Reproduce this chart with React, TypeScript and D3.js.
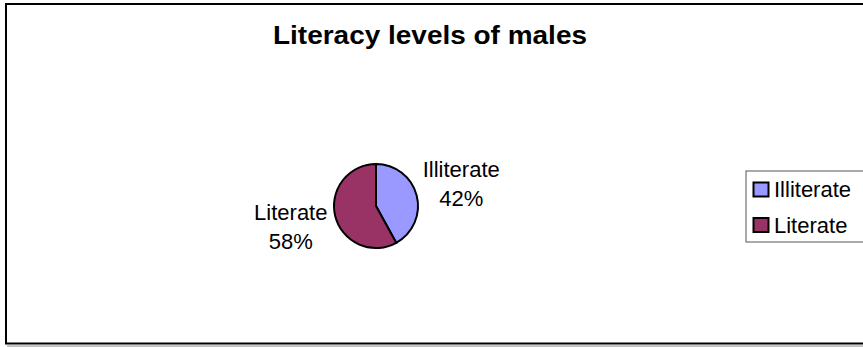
import React from "react";
import * as d3 from "d3";

const categories = ["Illiterate", "Literate"];
const shares = [42, 58];
const colors = ["#9999FF", "#993366"];
const title = "Literacy levels of males";

const W = 863;
const H = 347;
const font = "'Liberation Sans', Arial, sans-serif";

export default function App() {
  const cx = 376;
  const cy = 206;
  const radius = 42;

  const pie = d3
    .pie<number>()
    .sort(null)
    .value((d) => d)
    .startAngle(0)
    .endAngle(2 * Math.PI);
  const arcs = pie(shares);
  const arc = d3.arc<d3.PieArcDatum<number>>().innerRadius(0).outerRadius(radius);
  const labelArc = d3.arc<d3.PieArcDatum<number>>().innerRadius(88).outerRadius(88);
  const total = d3.sum(shares);

  const legendY = d3.scalePoint<string>().domain(categories).range([189.5, 225]);

  return (
    <svg
      width={W}
      height={H}
      style={{ position: "absolute", left: 0, top: 0, display: "block" }}
      fontFamily={font}
    >
      <rect x={0} y={0} width={W} height={H} fill="#ffffff" />
      {/* chart frame with its soft shadow */}
      <line x1={7} y1={346} x2={W + 10} y2={346} stroke="#b0b0b0" strokeWidth={1.5} />
      <rect x={6} y={4} width={W + 20} height={339.5} fill="#ffffff" stroke="#000000" strokeWidth={2} />

      <text
        x={430}
        y={44}
        textAnchor="middle"
        fontSize={25}
        fontWeight="bold"
        textLength={314}
        lengthAdjust="spacingAndGlyphs"
        fill="#000"
      >
        {title}
      </text>

      <g transform={`translate(${cx},${cy})`}>
        {arcs.map((a, i) => (
          <path key={categories[i]} d={arc(a) ?? ""} fill={colors[i]} stroke="#000" strokeWidth={2} />
        ))}
        {arcs.map((a, i) => {
          const [lx, ly] = labelArc.centroid(a);
          const pct = `${Math.round((a.data / total) * 100)}%`;
          return (
            <text key={categories[i]} textAnchor="middle" fontSize={22} fill="#000">
              <tspan x={lx} y={ly - 7.5}>{categories[i]}</tspan>
              <tspan x={lx} y={ly + 21.5}>{pct}</tspan>
            </text>
          );
        })}
      </g>

      {/* legend */}
      <rect x={746} y={171} width={W} height={71} fill="#ffffff" stroke="#555555" strokeWidth={1} />
      {categories.map((c, i) => {
        const y = legendY(c) ?? 0;
        return (
          <g key={c}>
            <rect x={753.5} y={y - 7} width={15} height={14} fill={colors[i]} stroke="#000" strokeWidth={2} />
            <text x={774} y={y + 7.5} fontSize={22} fill="#000">
              {c}
            </text>
          </g>
        );
      })}
    </svg>
  );
}
